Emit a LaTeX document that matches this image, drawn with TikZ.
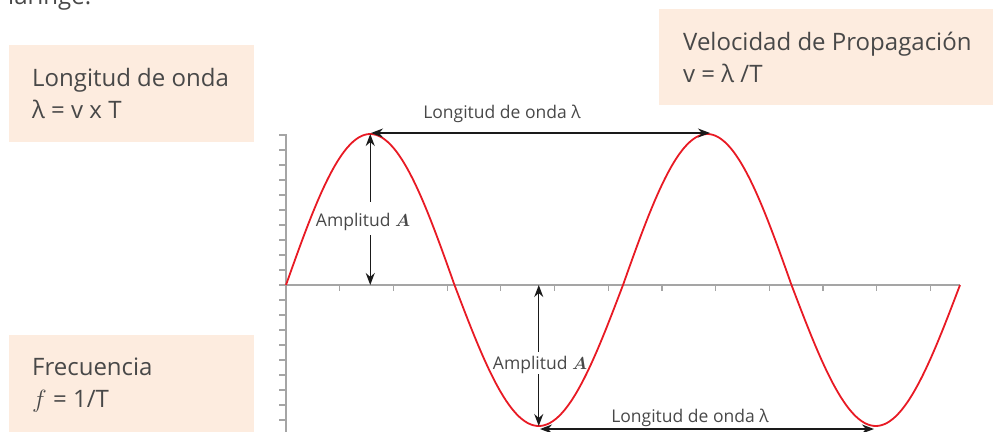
\documentclass[tikz,border=0pt]{standalone}
\usepackage{amsmath,amssymb}
\usepackage{fontspec}
\setmainfont{Open Sans}
\definecolor{boxpeach}{RGB}{253,236,223}
\definecolor{txtgray}{RGB}{72,72,72}
\definecolor{wavered}{RGB}{232,26,36}
\definecolor{axisgray}{RGB}{165,165,165}
\definecolor{arrowblack}{RGB}{26,26,26}
\usetikzlibrary{arrows.meta}

\begin{document}
\begin{tikzpicture}[x=1pt,y=-1pt,
    infobox/.style={fill=boxpeach,draw=none,inner sep=0pt,anchor=north west},
    boxtext/.style={text=txtgray,font=\fontsize{24}{31.5}\selectfont,
      align=left,inner sep=0pt,anchor=base west},
    smalltext/.style={text=txtgray,font=\fontsize{17.5}{20}\selectfont,
      inner sep=0pt,anchor=base},
    axisline/.style={draw=axisgray,line width=1.2pt},
    wave/.style={draw=wavered,line width=1.8pt},
    dimarrow/.style={draw=arrowblack,line width=1.3pt,
      -{Stealth[length=12pt,width=9pt]}},
    dimboth/.style={dimarrow,{Stealth[length=12pt,width=9pt]}-{Stealth[length=12pt,width=9pt]}}]
  \useasboundingbox (0,0) rectangle (993,431);

  %% Cut-off line of running text at the top
  \node[boxtext] (toptxt) at (8,5) {laringe.};

  %% Info boxes (text anchored on its last line)
  \node[infobox,minimum width=245pt,minimum height=97pt] (lambdabox) at (9,45) {};
  \node[infobox,minimum width=334pt,minimum height=96pt] (speedbox) at (659,9) {};
  \node[infobox,minimum width=245pt,minimum height=100pt] (freqbox) at (9,335) {};
  \node[boxtext] (lambdatxt) at (32,118) {Longitud de onda\\λ = v x T};
  \node[boxtext] (speedtxt) at (683,82) {Velocidad de Propagación\\v = λ /T};
  \node[boxtext] (freqtxt) at (32,407) {Frecuencia\\$f$ = 1/T};

  %% Axes with ticks
  \draw[axisline] (286,134) -- (286,436);
  \draw[axisline] (286,285) -- (960,285);
  \foreach \k in {-9,...,10}
    \draw[axisline] (279,{285-15*\k}) -- (286,{285-15*\k});
  \foreach \k in {1,...,12}
    \draw[axisline] ({286+53.7*\k},285) -- ({286+53.7*\k},291);

  %% Wave (two periods, angle in degrees)
  \draw[wave] plot[domain=0:720,samples=241,smooth]
    ({286+0.93611*\x},{285-sin(\x)*(sin(\x)>0 ? 151 : 141)});

  %% Reference points on the wave
  \coordinate (peakA) at (370.25,134);
  \coordinate (zeroA) at (370.25,285);
  \coordinate (troughA) at (538.75,426);
  \coordinate (zeroB) at (538.75,285);
  \coordinate (topL) at (371,133);
  \coordinate (topR) at (710,133);
  \coordinate (botL) at (540,429);
  \coordinate (botR) at (874,429);

  %% Amplitude arrows
  \node[smalltext,text height=24pt,text depth=9pt] (ampA) at (363,226) {Amplitud $\boldsymbol{A}$};
  \draw[dimarrow] (ampA.north -| zeroA) -- (peakA);
  \draw[dimarrow] (ampA.south -| zeroA) -- (zeroA);
  \node[smalltext,text height=17pt,text depth=5pt] (ampB) at (540,369) {Amplitud $\boldsymbol{A}$};
  \draw[dimarrow] (ampB.north -| zeroB) -- (zeroB);
  \draw[dimarrow] (ampB.south -| zeroB) -- (troughA);

  %% Wavelength arrows
  \draw[dimboth] (topL) -- (topR);
  \node[smalltext] (lamtop) at (502,118) {Longitud de onda λ};
  \draw[dimboth] (botL) -- (botR);
  \node[smalltext] (lambot) at (690,422) {Longitud de onda λ};
\end{tikzpicture}
\end{document}
